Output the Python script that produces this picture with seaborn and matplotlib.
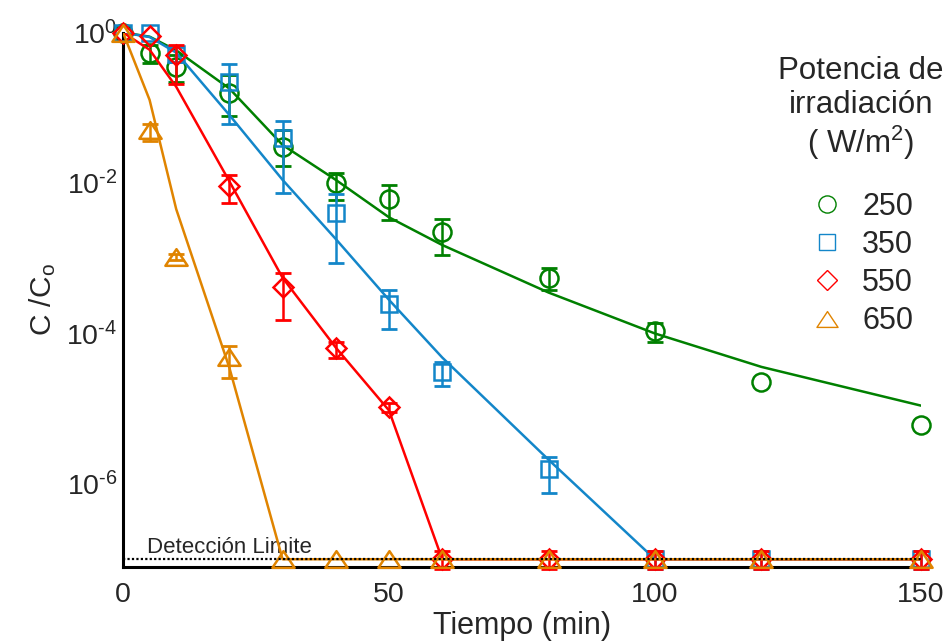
import numpy as np
import pandas as pd
import matplotlib
matplotlib.use("Agg")
import matplotlib.pyplot as plt
from matplotlib.lines import Line2D
from matplotlib.path import Path
import seaborn as sns

# ---- data -------------------------------------------------------------
tiempo = [0, 5, 10, 20, 30, 40, 50, 60, 80, 100, 120, 150]
potencias = ["250", "350", "550", "650"]
limite = 1e-7

# measured C/Co
c250 = [1.0, 0.53, 0.35, 0.158, 0.030, 0.010, 0.0061, 0.0022, 5.5e-4, 1.08e-4, 2.3e-5, 6.1e-6]
c350 = [1.0, 1.0, 0.52, 0.22, 0.040, 0.0040, 2.5e-4, 3.1e-5, 1.6e-6, 1e-7, 1e-7, 1e-7]
c550 = [1.0, 0.90, 0.50, 0.0091, 4.1e-4, 6.4e-5, 1.05e-5, 1e-7, 1e-7, 1e-7, 1e-7, 1e-7]
c650 = [1.0, 0.050, 1.05e-3, 4.8e-5, 1e-7, 1e-7, 1e-7, 1e-7, 1e-7, 1e-7, 1e-7, 1e-7]

# lower / upper ends of the error bars (nan = no bar)
nan = np.nan
lo250 = [nan, 0.39, 0.22, 0.078, 0.017, 0.0059, 0.0032, 0.0011, 3.8e-4, 7.7e-5, nan, nan]
hi250 = [nan, 0.68, 0.50, 0.27, 0.050, 0.0135, 0.0094, 0.0033, 7.4e-4, 1.4e-4, nan, nan]
lo350 = [nan, nan, 0.40, 0.061, 0.0074, 8.7e-4, 1.15e-4, 2.0e-5, 7.6e-7, 7.4e-8, 7.4e-8, 7.4e-8]
hi350 = [nan, nan, 0.65, 0.38, 0.066, 0.0071, 3.8e-4, 4.2e-5, 2.3e-6, 1.3e-7, 1.3e-7, 1.3e-7]
lo550 = [nan, nan, 0.21, 0.0054, 1.5e-4, 4.7e-5, 9.0e-6, 7.4e-8, 7.4e-8, 7.4e-8, 7.4e-8, 7.4e-8]
hi550 = [nan, nan, 0.68, 0.0128, 6.3e-4, 7.7e-5, 1.2e-5, 1.3e-7, 1.3e-7, 1.3e-7, 1.3e-7, 1.3e-7]
lo650 = [nan, 0.036, 0.95e-3, 2.6e-5, nan, nan, nan, nan, nan, nan, nan, nan]
hi650 = [nan, 0.061, 1.15e-3, 6.9e-5, nan, nan, nan, nan, nan, nan, nan, nan]

# kinetic model curves
m250 = [1.0, 0.88, 0.58, 0.18, 0.032, 0.011, 0.0035, 0.0015, 3.5e-4, 1.0e-4, 3.6e-5, 1.1e-5]
m350 = [1.0, 0.87, 0.54, 0.08, 0.011, 0.0018, 2.8e-4, 4.8e-5, 2.1e-6, 1e-7, 1e-7, 1e-7]
m550 = [1.0, 0.59, 0.19, 0.0105, 5.5e-4, 6.5e-5, 9.5e-6, 1e-7, 1e-7, 1e-7, 1e-7, 1e-7]
m650 = [1.0, 0.127, 0.0045, 3.5e-5, 1e-7, 1e-7, 1e-7, 1e-7, 1e-7, 1e-7, 1e-7, 1e-7]

ytick_vals = [1e0, 1e-2, 1e-4, 1e-6]
ytick_text = [r"$10^{0}$", r"$10^{‐2}$", r"$10^{‐4}$", r"$10^{‐6}$"]

colores = {"250": "#008000", "350": "#1386c9", "550": "#ff0000", "650": "#e08400"}

# ---- style ------------------------------------------------------------
sns.set_theme(style="white")
plt.rcParams["font.family"] = ["Liberation Sans", "DejaVu Sans"]
plt.rcParams["mathtext.fontset"] = "custom"
plt.rcParams["mathtext.rm"] = "Liberation Sans"
plt.rcParams["mathtext.it"] = "Liberation Sans"
plt.rcParams["mathtext.default"] = "regular"

tri = Path([(0, 0.75), (-1, -0.75), (1, -0.75), (0, 0.75)],
           [Path.MOVETO, Path.LINETO, Path.LINETO, Path.CLOSEPOLY])
marcadores = {"250": ("o", 13), "350": ("s", 11.5), "550": ("D", 10.5), "650": (tri, 16)}

medidos = {"250": (c250, lo250, hi250), "350": (c350, lo350, hi350),
           "550": (c550, lo550, hi550), "650": (c650, lo650, hi650)}
modelos = {"250": m250, "350": m350, "550": m550, "650": m650}

W, H = 951, 643
fig = plt.figure(figsize=(W / 100, H / 100), dpi=100)
ax = fig.add_axes([123 / W, 1 - 567 / H, (921 - 123) / W, (567 - 32.5) / H])
ax.set_yscale("log")

# model lines
df_mod = pd.concat([pd.DataFrame({"Tiempo": tiempo, "C": modelos[p], "Potencia": p})
                    for p in potencias], ignore_index=True)

t = np.array(tiempo, dtype=float)
for i, p in enumerate(potencias):
    sub = df_mod[df_mod["Potencia"] == p]
    sns.lineplot(data=sub, x="Tiempo", y="C", color=colores[p], lw=1.8,
                 ax=ax, legend=False, estimator=None, sort=False, zorder=3 + 2 * i)

    y, lo, hi = (np.array(a, dtype=float) for a in medidos[p])
    has = ~np.isnan(lo)
    yerr = np.vstack([np.where(has, y - lo, 0), np.where(has, hi - y, 0)])
    mk, ms = marcadores[p]
    eb = ax.errorbar(t[has], y[has], yerr=yerr[:, has], fmt="none", ecolor=colores[p],
                     elinewidth=1.8, capsize=5.5, capthick=2.0, zorder=2 + 2 * i)
    for art in eb.lines[1] + eb.lines[2]:
        art.set_clip_on(False)
    ax.plot(t, y, ls="none", marker=mk, ms=ms, mfc="none", mec=colores[p],
            mew=1.8, zorder=3 + 2 * i, clip_on=False)

# detection limit
ax.axhline(limite, color="black", ls=(0, (1, 1)), lw=1.6, zorder=20)
ax.text(4.5, 1.21e-7, "Detección Limite", fontsize=16, va="baseline", ha="left")

ax.set_xlim(0, 150)
ax.set_ylim(10 ** (-(567 - 32.5) / 75.25), 1.0)
ax.set_xticks([0, 50, 100, 150])
ax.set_yticks(ytick_vals)
ax.set_yticklabels(ytick_text)
ax.yaxis.set_minor_locator(matplotlib.ticker.NullLocator())
ax.tick_params(axis="y", direction="in", length=4.5, width=1.5, labelsize=20.5, pad=4)
ax.tick_params(axis="x", length=0, labelsize=20.5, pad=11)

for s in ("top", "right"):
    ax.spines[s].set_visible(False)
for s in ("left", "bottom"):
    ax.spines[s].set_color("black")
    ax.spines[s].set_linewidth(2.2)

ax.set_xlabel("Tiempo (min)", fontsize=22, labelpad=2)
ax.set_ylabel("C /C$_o$", fontsize=21.5, labelpad=6)

handles = [Line2D([], [], ls="none", marker=marcadores[p][0], ms=marcadores[p][1] * 0.95,
                  mfc="none", mec=colores[p], mew=1.0) for p in potencias]
leg = ax.legend(handles, potencias, title="Potencia de\nirradiación\n( W/m$^2$)",
                frameon=False, fontsize=22, title_fontsize=22.5, labelspacing=0.27,
                handletextpad=0.55, handlelength=1.2, borderpad=0, loc="upper right",
                bbox_to_anchor=(959 / W, 1 - 41 / H), bbox_transform=fig.transFigure)
leg.get_title().set_multialignment("center")
leg.get_title().set_linespacing(1.15)
leg._legend_box.sep = 21

fig.savefig("out.png", dpi=100)
